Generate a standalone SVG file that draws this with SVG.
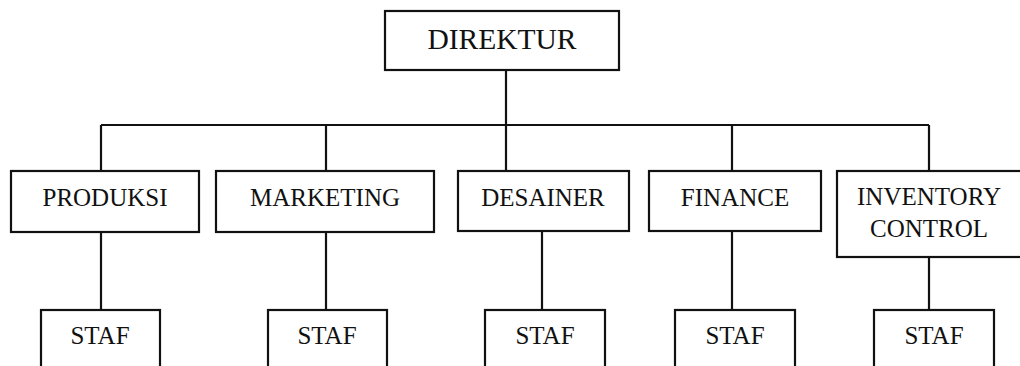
<svg xmlns="http://www.w3.org/2000/svg" width="1020" height="366" viewBox="0 0 1020 366">
<style>
.box{fill:#fff;stroke:#111;stroke-width:2.2}
.ln{fill:none;stroke:#111;stroke-width:2.2}
text{font-family:"Liberation Serif","Times New Roman",serif;font-size:25px;fill:#111;text-anchor:middle}
</style>
<rect width="1020" height="366" fill="#fff"/>
<g id="connectors">
<path class="ln" d="M506 70V171M101 125H929M101 125V171M326 125V171M732 125V171M929 125V171"/>
<path class="ln" d="M101 232V310M326 232V310M542 231V310M732 231V310M929 257V310"/>
</g>
<g id="direktur"><rect class="box" x="385" y="11" width="234" height="59"/><text x="502" y="49" style="font-size:29.5px">DIREKTUR</text></g>
<g id="produksi"><rect class="box" x="11" y="171" width="188" height="61"/><text x="105" y="206">PRODUKSI</text></g>
<g id="marketing"><rect class="box" x="216" y="171" width="218" height="61"/><text x="325" y="206">MARKETING</text></g>
<g id="desainer"><rect class="box" x="458" y="171" width="171" height="60"/><text x="543" y="206">DESAINER</text></g>
<g id="finance"><rect class="box" x="649" y="171" width="172" height="60"/><text x="735" y="206">FINANCE</text></g>
<g id="inventory"><rect class="box" x="837" y="171" width="186" height="86"/><text x="929" y="205">INVENTORY</text><text x="929" y="237">CONTROL</text></g>
<g id="staf1"><rect class="box" x="41" y="310" width="119" height="70"/><text x="100" y="344">STAF</text></g>
<g id="staf2"><rect class="box" x="268" y="310" width="119" height="70"/><text x="327" y="344">STAF</text></g>
<g id="staf3"><rect class="box" x="485" y="310" width="120" height="70"/><text x="545" y="344">STAF</text></g>
<g id="staf4"><rect class="box" x="675" y="310" width="120" height="70"/><text x="735" y="344">STAF</text></g>
<g id="staf5"><rect class="box" x="874" y="310" width="120" height="70"/><text x="934" y="344">STAF</text></g>
</svg>
